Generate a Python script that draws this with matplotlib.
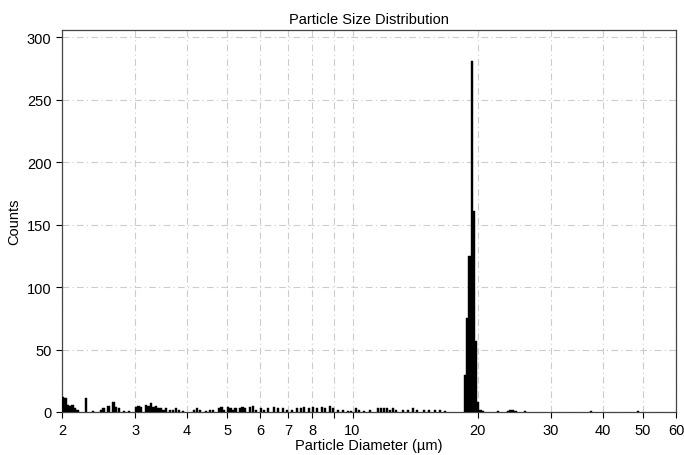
import matplotlib
matplotlib.use('Agg')
import matplotlib.pyplot as plt
from matplotlib.ticker import FixedLocator, NullLocator

# particle diameters (um, bin centres) and counts
diameter_um = [
    2.011, 2.038, 2.065, 2.093, 2.121, 2.149, 2.178, 2.284, 2.375, 2.482,
    2.517, 2.587, 2.660, 2.697, 2.742, 2.819, 2.898,
    3.013, 3.055, 3.098, 3.185, 3.229, 3.274, 3.320, 3.366, 3.413, 3.461,
    3.509, 3.558, 3.638, 3.699, 3.761, 3.824, 3.909, 4.155, 4.225, 4.296,
    4.441, 4.541, 4.617, 4.773, 4.839, 4.907,
    5.017, 5.087, 5.158, 5.230, 5.361, 5.436, 5.512, 5.667, 5.762, 5.858,
    6.022, 6.123, 6.260, 6.472, 6.617, 6.802, 6.955, 7.149, 7.350, 7.515,
    7.641, 7.856, 8.032, 8.212, 8.443, 8.585, 8.826, 8.973, 9.225, 9.484,
    9.751,
    9.914, 10.19, 10.36, 10.65, 11.01, 11.51, 11.71, 11.90, 12.10, 12.30,
    12.51, 12.72, 13.22, 13.59, 13.97, 14.29, 14.85, 15.27, 15.79, 16.23,
    16.68,
    18.66, 18.90, 19.11, 19.38, 19.62, 19.81, 20.03, 20.31, 20.60,
    22.38, 23.66, 23.99, 24.32, 24.66, 25.99, 37.46, 48.60,
]
counts = [
    12, 11, 6, 5, 6, 3, 2, 11, 1, 2,
    3, 5, 8, 4, 3, 1, 1,
    4, 5, 4, 6, 5, 7, 4, 5, 3, 3,
    2, 3, 2, 2, 3, 2, 1, 2, 3, 2,
    1, 2, 2, 3, 4, 2,
    4, 3, 2, 3, 3, 4, 3, 4, 5, 2,
    3, 2, 3, 4, 3, 3, 2, 2, 3, 3,
    4, 3, 4, 3, 4, 3, 5, 3, 2, 2,
    1,
    1, 3, 2, 1, 2, 3, 3, 3, 3, 2,
    3, 2, 2, 2, 3, 2, 2, 2, 2, 2,
    1,
    30, 75, 125, 281, 161, 57, 8, 2, 1,
    1, 1, 2, 2, 1, 1, 1, 1,
]

x_ticks = [2, 3, 4, 5, 6, 7, 8, 9, 10, 20, 30, 40, 50, 60]
x_labels = ['2', '3', '4', '5', '6', '7', '8', '', '10', '20', '30', '40', '50', '60']
y_ticks = [0, 50, 100, 150, 200, 250, 300]

plt.rcParams['font.family'] = ['Liberation Sans', 'DejaVu Sans']

fig = plt.figure(figsize=(6.84, 4.56), dpi=100)
ax = fig.add_axes([0.0906, 0.0943, 0.8977, 0.8377])

bin_ratio = 1.01338
widths = [d * (bin_ratio - 1) for d in diameter_um]
ax.bar(diameter_um, counts, width=widths, color='black', edgecolor='black',
       linewidth=0.3, zorder=3)

ax.set_xscale('log')
ax.set_xlim(2, 60)
ax.set_ylim(0, 306)
ax.xaxis.set_major_locator(FixedLocator(x_ticks))
ax.xaxis.set_minor_locator(NullLocator())
ax.set_xticklabels(x_labels)
ax.set_yticks(y_ticks)

ax.grid(True, color='#cccccc', linestyle=(0, (6, 3, 1, 3)), linewidth=0.8, zorder=0)
ax.tick_params(direction='out', length=4, width=0.8, labelsize=10.5, colors='black')
ax.tick_params(axis='x', pad=4)
for s in ax.spines.values():
    s.set_linewidth(0.9)
    s.set_color('#444444')

ax.set_title('Particle Size Distribution', fontsize=10.5, pad=5)
ax.set_xlabel('Particle Diameter (µm)', fontsize=10.5, labelpad=1)
ax.set_ylabel('Counts', fontsize=10.5, labelpad=4)

fig.savefig('out.png', dpi=100)
plt.close(fig)
